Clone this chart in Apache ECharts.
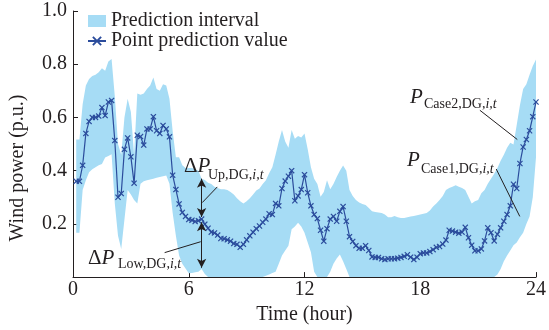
<!DOCTYPE html>
<html>
<head>
<meta charset="utf-8">
<script src="https://cdn.jsdelivr.net/npm/echarts@6/dist/echarts.min.js"></script>
<style>
  html, body { margin: 0; padding: 0; background: #fff; }
  #chart { width: 549px; height: 330px; }
</style>
</head>
<body>
<div id="chart"></div>
<script>
// 10-min resolution, first sample at t = 1/6 h, last at 24 h
const pointValue = [
  0.36, 0.36, 0.42, 0.54, 0.585, 0.60, 0.60, 0.605, 0.637, 0.607, 0.658, 0.664,
  0.513, 0.30, 0.314, 0.48, 0.523, 0.452, 0.353, 0.533, 0.528, 0.496, 0.557, 0.557,
  0.603, 0.55, 0.54, 0.57, 0.557, 0.527, 0.383, 0.329, 0.275, 0.243, 0.228, 0.216,
  0.214, 0.209, 0.212, 0.218, 0.199, 0.184, 0.169, 0.166, 0.158, 0.145, 0.144, 0.14,
  0.135, 0.126, 0.123, 0.112, 0.123, 0.14, 0.155, 0.169, 0.182, 0.192, 0.206, 0.218,
  0.238, 0.235, 0.277, 0.268, 0.333, 0.361, 0.379, 0.40, 0.287, 0.305, 0.329, 0.385,
  0.317, 0.268, 0.235, 0.22, 0.176, 0.135, 0.182, 0.218, 0.228, 0.21, 0.247, 0.265,
  0.21, 0.152, 0.134, 0.118, 0.108, 0.108, 0.118, 0.10, 0.076, 0.074, 0.074, 0.069,
  0.066, 0.069, 0.069, 0.069, 0.071, 0.074, 0.078, 0.084, 0.075, 0.066, 0.075, 0.088,
  0.091, 0.091, 0.096, 0.103, 0.112, 0.115, 0.124, 0.139, 0.176, 0.173, 0.169, 0.165,
  0.169, 0.187, 0.148, 0.12, 0.099, 0.099, 0.106, 0.136, 0.185, 0.167, 0.136, 0.161,
  0.185, 0.21, 0.235, 0.268, 0.349, 0.333, 0.427, 0.489, 0.517, 0.55, 0.603, 0.658
]
const upperBound = [
  0.517, 0.517, 0.65, 0.72, 0.744, 0.756, 0.76, 0.77, 0.785, 0.775, 0.81, 0.82,
  0.68, 0.5, 0.46, 0.6, 0.67, 0.62, 0.46, 0.69, 0.685, 0.69, 0.707, 0.72,
  0.75, 0.707, 0.70, 0.725, 0.72, 0.67, 0.548, 0.45, 0.45, 0.42, 0.41, 0.41,
  0.41, 0.405, 0.40, 0.37, 0.365, 0.355, 0.35, 0.34, 0.335, 0.33, 0.33, 0.327,
  0.32, 0.31, 0.296, 0.285, 0.277, 0.285, 0.296, 0.31, 0.325, 0.333, 0.35, 0.364,
  0.39, 0.413, 0.46, 0.51, 0.553, 0.51, 0.486, 0.553, 0.52, 0.53, 0.525, 0.54,
  0.48, 0.413, 0.37, 0.35, 0.302, 0.32, 0.364, 0.33, 0.35, 0.376, 0.40, 0.419,
  0.40, 0.327, 0.305, 0.29, 0.28, 0.275, 0.271, 0.26, 0.247, 0.245, 0.243, 0.241,
  0.235, 0.225, 0.225, 0.23, 0.225, 0.222, 0.222, 0.225, 0.228, 0.23, 0.232, 0.235,
  0.238, 0.241, 0.25, 0.265, 0.277, 0.29, 0.305, 0.327, 0.335, 0.34, 0.345, 0.34,
  0.335, 0.327, 0.302, 0.277, 0.285, 0.29, 0.315, 0.327, 0.351, 0.37, 0.388, 0.41,
  0.437, 0.46, 0.486, 0.505, 0.498, 0.572, 0.646, 0.707, 0.725, 0.76, 0.793, 0.818
]
const lowerBound = [
  0.167, 0.167, 0.327, 0.364, 0.394, 0.405, 0.413, 0.42, 0.425, 0.449, 0.455, 0.462,
  0.277, 0.155, 0.106, 0.216, 0.327, 0.31, 0.29, 0.277, 0.351, 0.36, 0.364, 0.367,
  0.37, 0.373, 0.376, 0.379, 0.382, 0.351, 0.241, 0.155, 0.081, 0.05, 0.032, 0.014,
  0.015, 0.018, 0.02, 0.03, 0.012, 0, 0, 0, 0, 0, 0, 0,
  0, 0, 0, 0, 0, 0, 0, 0, 0, 0, 0, 0.005,
  0.01, 0.015, 0.02, 0.05, 0.081, 0.1, 0.118, 0.18, 0.19, 0.204, 0.19, 0.167,
  0.13, 0.093, 0.02, 0, 0, 0, 0, 0.02, 0.05, 0.07, 0.085, 0.06,
  0.03, 0, 0, 0, 0, 0, 0, 0, 0, 0, 0, 0,
  0, 0, 0, 0, 0, 0, 0, 0, 0, 0, 0, 0,
  0, 0, 0, 0, 0, 0, 0, 0, 0, 0, 0, 0,
  0, 0, 0, 0, 0, 0, 0, 0, 0, 0, 0, 0.01,
  0.03, 0.06, 0.081, 0.1, 0.12, 0.13, 0.15, 0.167, 0.2, 0.228, 0.3, 0.45
]
const xTicks = [0, 6, 12, 18, 24]
const yTicks = [0, 0.2, 0.4, 0.6, 0.8, 1.0]

const times = pointValue.map((_, i) => (i + 1) / 6)
const FONT = '"Liberation Serif", "Times New Roman", serif'
const INK = '#231f20'
const BAND = '#a6dcf5'
const LINE = '#2b4c9c'
const CROSS = 'path://M0,1.4L1.4,0L5,3.6L8.6,0L10,1.4L6.4,5L10,8.6L8.6,10L5,6.4L1.4,10L0,8.6L3.6,5Z'

// annotation arrows and leader lines (data coords)
const arrowT = 40 / 6
const annot = [
  { from: [arrowT, 0.226], to: [arrowT, 0.37], sym: ['arrow', 'arrow'] },
  { from: [arrowT, 0.206], to: [arrowT, 0.035], sym: ['arrow', 'arrow'] },
  { from: [7.48, 0.339], to: [6.7, 0.28], sym: ['none', 'none'] },
  { from: [4.75, 0.092], to: [6.62, 0.133], sym: ['none', 'none'] },
  { from: [21.09, 0.627], to: [23.03, 0.517], sym: ['none', 'none'] },
  { from: [21.94, 0.406], to: [23.16, 0.228], sym: ['none', 'none'] }
]

const chart = echarts.init(document.getElementById('chart'), null, { renderer: 'canvas' })

function subText(x, y, main, sub, prefixDelta) {
  return [
    {
      type: 'text', x: x, y: y, silent: true, z: 100,
      style: {
        text: (prefixDelta ? '{d|Δ}' : '') + '{p|P}',
        rich: {
          d: { font: '21px ' + FONT, fill: INK },
          p: { font: 'italic 21px ' + FONT, fill: INK }
        },
        textVerticalAlign: 'middle'
      }
    },
    {
      type: 'text', x: main, y: y + sub.dy, silent: true, z: 100,
      style: {
        text: '{n|' + sub.n + '}{i|i,t}',
        rich: {
          n: { font: '14px ' + FONT, fill: INK },
          i: { font: 'italic 14px ' + FONT, fill: INK }
        },
        textVerticalAlign: 'middle'
      }
    }
  ]
}

chart.setOption({
  animation: false,
  backgroundColor: '#fff',
  textStyle: { fontFamily: FONT },
  grid: { left: 73, right: 11, top: 11, bottom: 48 },
  legend: {
    left: 87, top: 11, orient: 'vertical', itemGap: 0, padding: 0,
    itemWidth: 18, itemHeight: 12,
    textStyle: { fontFamily: FONT, fontSize: 20, color: INK },
    data: [
      { name: 'Prediction interval', icon: 'rect', itemStyle: { color: BAND } },
      { name: 'Point prediction value' }
    ]
  },
  xAxis: {
    type: 'value', min: xTicks[0], max: xTicks[xTicks.length - 1], interval: 6,
    name: 'Time (hour)', nameLocation: 'middle', nameGap: 26,
    nameTextStyle: { fontFamily: FONT, fontSize: 20, color: INK },
    axisLine: { lineStyle: { color: INK, width: 1 } },
    axisTick: { inside: true, length: 5, lineStyle: { color: INK } },
    axisLabel: { fontFamily: FONT, fontSize: 20, color: INK, margin: 3 },
    splitLine: { show: false }
  },
  yAxis: {
    type: 'value', min: yTicks[0], max: yTicks[yTicks.length - 1], interval: 0.2,
    axisLine: { show: true, lineStyle: { color: INK, width: 1 } },
    axisTick: { show: true, inside: true, length: 5, lineStyle: { color: INK } },
    axisLabel: {
      fontFamily: FONT, fontSize: 20, color: INK, margin: 6,
      formatter: v => v === 0 ? '' : v.toFixed(1)
    },
    splitLine: { show: false }
  },
  series: [
    {
      name: 'Prediction interval', type: 'custom', silent: true, z: 1,
      itemStyle: { color: BAND },
      data: [[12, 0.5]],
      renderItem: (params, api) => {
        const top = times.map((t, i) => api.coord([t, upperBound[i]]))
        const bottom = times.map((t, i) => api.coord([t, lowerBound[i]])).reverse()
        return {
          type: 'polygon',
          shape: { points: top.concat(bottom) },
          style: { fill: BAND, stroke: null }
        }
      }
    },
    {
      name: 'Point prediction value', type: 'line', z: 3,
      symbol: CROSS, symbolSize: 6, showSymbol: true,
      itemStyle: { color: LINE },
      lineStyle: { color: LINE, width: 1.2 },
      data: times.map((t, i) => [t, pointValue[i]]),
      markLine: {
        silent: true, animation: false,
        label: { show: false },
        lineStyle: { color: INK, width: 1, type: 'solid' },
        symbolSize: [7, 9],
        data: annot.map(a => [
          { coord: a.from, symbol: a.sym[0] },
          { coord: a.to, symbol: a.sym[1] }
        ])
      }
    }
  ],
  graphic: [
    {
      type: 'text', x: 18, y: 168, rotation: Math.PI / 2, silent: true,
      style: {
        text: 'Wind power (p.u.)', font: '20px ' + FONT, fill: INK,
        textAlign: 'center', textVerticalAlign: 'middle'
      }
    },
    ...subText(184, 166.5, 208, { n: 'Up,DG,', dy: 9 }, true),
    ...subText(88, 258, 118, { n: 'Low,DG,', dy: 6 }, true),
    ...subText(410, 97, 424, { n: 'Case2,DG,', dy: 7 }, false),
    ...subText(407, 160.5, 421, { n: 'Case1,DG,', dy: 9 }, false)
  ]
})
</script>
</body>
</html>
